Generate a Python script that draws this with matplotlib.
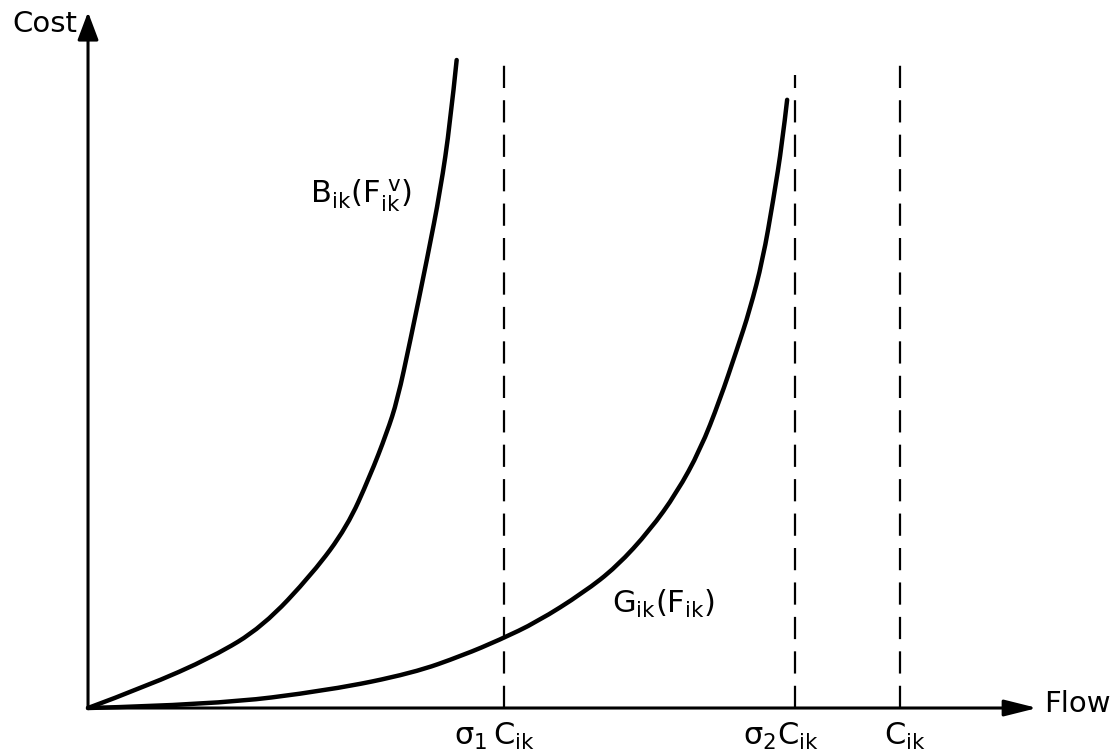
import numpy as np
import matplotlib
matplotlib.use("Agg")
import matplotlib.pyplot as plt
from matplotlib.path import Path
from matplotlib.patches import PathPatch

# units: flow and cost both scaled so that C_ik = 1
b_flow = [0, 0.07, 0.154, 0.215, 0.277, 0.319, 0.347, 0.368, 0.381, 0.397, 0.418, 0.434, 0.446, 0.454]
b_cost = [0, 0.026, 0.063, 0.100, 0.166, 0.223, 0.285, 0.339, 0.379, 0.453, 0.555, 0.638, 0.720, 0.798]

g_flow = [0, 0.154, 0.298, 0.400, 0.462, 0.507, 0.553, 0.610, 0.651, 0.692, 0.725, 0.754,
          0.778, 0.799, 0.815, 0.831, 0.844, 0.855, 0.861]
g_cost = [0, 0.004, 0.022, 0.043, 0.065, 0.084, 0.106, 0.142, 0.174, 0.219, 0.265, 0.318,
          0.379, 0.441, 0.490, 0.552, 0.626, 0.696, 0.749]

cap_pos = [0.512, 0.871, 1.0]
cap_top = [0.792, 0.780, 0.792]
cap_labels = [r'$\sigma_1\,C_{ik}$', r'$\sigma_2C_{ik}$', r'$C_{ik}$']
cap_label_x = [0.501, 0.853, 1.006]

plt.rcParams['mathtext.fontset'] = 'custom'
plt.rcParams['mathtext.rm'] = 'DejaVu Sans'
plt.rcParams['mathtext.it'] = 'DejaVu Sans'
plt.rcParams['mathtext.default'] = 'regular'


def smooth_path(xs, ys):
    # quadratic b-spline through the midpoints, ends pinned
    pts = np.column_stack([xs, ys])
    verts = [pts[0]]
    codes = [Path.MOVETO]
    n = len(pts)
    for i in range(1, n - 1):
        end = pts[i + 1] if i == n - 2 else (pts[i] + pts[i + 1]) / 2
        verts += [pts[i], end]
        codes += [Path.CURVE3, Path.CURVE3]
    return Path(verts, codes)


fig = plt.figure(figsize=(11.19, 7.56), dpi=100)
ax = fig.add_axes([0, 0, 1, 1])
ax.set_xlim(-0.1084, 1.2697)
ax.set_ylim(-0.0591, 0.8719)
ax.axis('off')

# curves
for xs, ys in [(b_flow, b_cost), (g_flow, g_cost)]:
    ax.add_patch(PathPatch(smooth_path(xs, ys), fill=False, edgecolor='black',
                           lw=3.2, capstyle='round'))

# capacity lines
for x, top in zip(cap_pos, cap_top):
    ax.plot([x, x], [0, top], color='black', lw=1.6, linestyle=(0, (10, 5.5)))

# axes with arrows
ax.annotate('', xy=(0, 0.857), xytext=(0, 0),
            arrowprops=dict(arrowstyle='-|>,head_length=0.85,head_width=0.32',
                            mutation_scale=20, lw=2.2, color='black',
                            shrinkA=0, shrinkB=0))
ax.annotate('', xy=(1.169, 0), xytext=(0, 0),
            arrowprops=dict(arrowstyle='-|>,head_length=1.0,head_width=0.25',
                            mutation_scale=20, lw=2.2, color='black',
                            shrinkA=0, shrinkB=0))

ax.text(-0.013, 0.842, 'Cost', fontsize=21, ha='right', va='center')
ax.text(1.178, 0.005, 'Flow', fontsize=21, ha='left', va='center')

for x, lab in zip(cap_label_x, cap_labels):
    ax.text(x, -0.016, lab, fontsize=22, ha='center', va='top')

ax.text(0.336, 0.622, r'$B_{ik}(F_{ik}^{\ v})$', fontsize=22, ha='center', va='baseline')
ax.text(0.709, 0.117, r'$G_{ik}(F_{ik})$', fontsize=22, ha='center', va='baseline')

fig.savefig('out.png', dpi=100)
